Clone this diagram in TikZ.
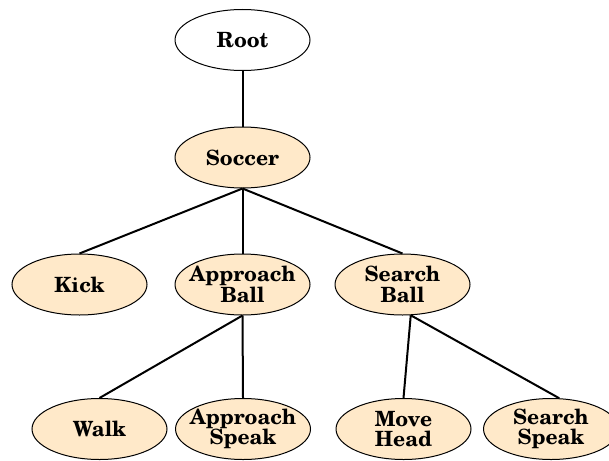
\documentclass[tikz,border=0pt]{standalone}
\usepackage{fontspec}
\setmainfont{TeX Gyre Schola}
\usetikzlibrary{shapes.geometric}
\definecolor{peach}{RGB}{255,233,201}
\begin{document}
\begin{tikzpicture}[x=1pt,y=-1pt,
  tnode/.style={ellipse,draw=black,line width=1pt,inner ysep=0pt,inner xsep=-15pt,
    minimum width=135pt,minimum height=61pt,align=center,
    font=\fontsize{21}{20.5}\selectfont\bfseries},
  leaf/.style={tnode,fill=peach},
  edge/.style={line width=2pt}]
\useasboundingbox (0,0) rectangle (609,460);
\node[tnode,fill=white] (root) at (242.5,40) {Root};
\node[leaf] (soccer) at (242.5,157.5) {Soccer};
\node[leaf] (kick) at (79.5,284.5) {Kick};
\node[leaf] (ab) at (242.5,284.5) {Approach\\Ball};
\node[leaf] (sb) at (402.5,284.5) {Search\\Ball};
\node[leaf] (walk) at (99.5,429) {Walk};
\node[leaf] (as) at (243,429) {Approach\\Speak};
\node[leaf] (mh) at (403.5,429) {Move\\Head};
\node[leaf] (ss) at (551,429) {Search\\Speak};
\draw[edge] (root.south) -- (soccer.north);
\draw[edge] (soccer.south) -- (kick.north);
\draw[edge] (soccer.south) -- (ab.north);
\draw[edge] (soccer.south) -- (sb.north);
\draw[edge] (ab.south) -- (walk.north);
\draw[edge] (ab.south) -- (as.north);
\draw[edge] (sb.-75) -- (mh.north);
\draw[edge] (sb.-75) -- (ss.75);
\end{tikzpicture}
\end{document}
